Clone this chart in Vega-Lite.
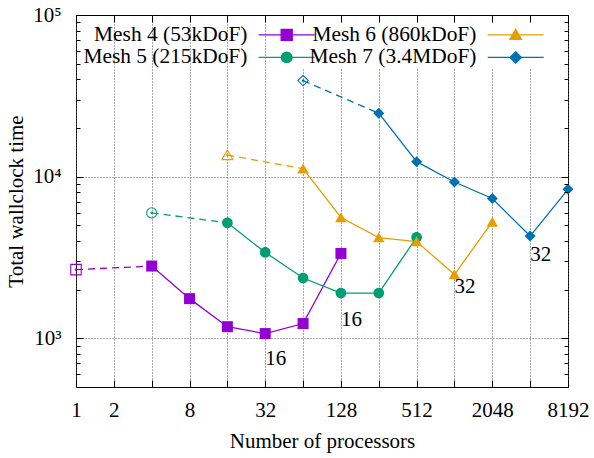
{
 "$schema": "https://vega.github.io/schema/vega-lite/v6.json",
 "width": 492,
 "height": 372,
 "autosize": {"type": "none"},
 "padding": {"left": 76, "top": 15, "right": 26, "bottom": 71},
 "background": "white",
 "config": {
  "view": {"stroke": "black", "strokeWidth": 1},
  "font": "Liberation Serif"
 },
 "datasets": {
  "pts": [
   {"series": "Mesh 4 (53kDoF)", "procs": 1, "time": 2660, "hollow": true, "dash": true},
   {"series": "Mesh 4 (53kDoF)", "procs": 4, "time": 2800, "hollow": false, "dash": true},
   {"series": "Mesh 4 (53kDoF)", "procs": 8, "time": 1760, "hollow": false, "dash": false},
   {"series": "Mesh 4 (53kDoF)", "procs": 16, "time": 1180, "hollow": false, "dash": false},
   {"series": "Mesh 4 (53kDoF)", "procs": 32, "time": 1070, "hollow": false, "dash": false},
   {"series": "Mesh 4 (53kDoF)", "procs": 64, "time": 1235, "hollow": false, "dash": false},
   {"series": "Mesh 4 (53kDoF)", "procs": 128, "time": 3350, "hollow": false, "dash": false},
   {"series": "Mesh 5 (215kDoF)", "procs": 4, "time": 5970, "hollow": true, "dash": true},
   {"series": "Mesh 5 (215kDoF)", "procs": 16, "time": 5180, "hollow": false, "dash": true},
   {"series": "Mesh 5 (215kDoF)", "procs": 32, "time": 3400, "hollow": false, "dash": false},
   {"series": "Mesh 5 (215kDoF)", "procs": 64, "time": 2360, "hollow": false, "dash": false},
   {"series": "Mesh 5 (215kDoF)", "procs": 128, "time": 1905, "hollow": false, "dash": false},
   {"series": "Mesh 5 (215kDoF)", "procs": 256, "time": 1905, "hollow": false, "dash": false},
   {"series": "Mesh 5 (215kDoF)", "procs": 512, "time": 4220, "hollow": false, "dash": false},
   {"series": "Mesh 6 (860kDoF)", "procs": 16, "time": 13600, "hollow": true, "dash": true},
   {"series": "Mesh 6 (860kDoF)", "procs": 64, "time": 11200, "hollow": false, "dash": true},
   {"series": "Mesh 6 (860kDoF)", "procs": 128, "time": 5590, "hollow": false, "dash": false},
   {"series": "Mesh 6 (860kDoF)", "procs": 256, "time": 4200, "hollow": false, "dash": false},
   {"series": "Mesh 6 (860kDoF)", "procs": 512, "time": 3970, "hollow": false, "dash": false},
   {"series": "Mesh 6 (860kDoF)", "procs": 1024, "time": 2480, "hollow": false, "dash": false},
   {"series": "Mesh 6 (860kDoF)", "procs": 2048, "time": 5250, "hollow": false, "dash": false},
   {"series": "Mesh 7 (3.4MDoF)", "procs": 64, "time": 39300, "hollow": true, "dash": true},
   {"series": "Mesh 7 (3.4MDoF)", "procs": 256, "time": 24700, "hollow": false, "dash": true},
   {"series": "Mesh 7 (3.4MDoF)", "procs": 512, "time": 12380, "hollow": false, "dash": false},
   {"series": "Mesh 7 (3.4MDoF)", "procs": 1024, "time": 9270, "hollow": false, "dash": false},
   {"series": "Mesh 7 (3.4MDoF)", "procs": 2048, "time": 7330, "hollow": false, "dash": false},
   {"series": "Mesh 7 (3.4MDoF)", "procs": 4096, "time": 4290, "hollow": false, "dash": false},
   {"series": "Mesh 7 (3.4MDoF)", "procs": 8192, "time": 8350, "hollow": false, "dash": false}
  ],
  "notes": [
   {"series": "Mesh 4 (53kDoF)", "procs": 32, "time": 745, "note": "16"},
   {"series": "Mesh 5 (215kDoF)", "procs": 128, "time": 1300, "note": "16"},
   {"series": "Mesh 6 (860kDoF)", "procs": 1024, "time": 2080, "note": "32"},
   {"series": "Mesh 7 (3.4MDoF)", "procs": 4096, "time": 3270, "note": "32"}
  ]
 },
 "layer": [
  {
   "data": {"name": "pts"},
   "transform": [{"filter": "datum.dash"}],
   "mark": {"type": "line", "strokeDash": [7, 5], "strokeWidth": 1.3},
   "encoding": {
    "x": {"field": "procs", "type": "quantitative",
     "scale": {"type": "log", "base": 2, "domain": [1, 8192], "nice": false},
     "axis": {"orient": "bottom", "values": [1,2,4,8,16,32,64,128,256,512,1024,2048,4096,8192], "format": "d",
      "labelExpr": "indexof([1,2,8,32,128,512,2048,8192], datum.value) >= 0 ? datum.label : ''",
      "labelFlush": false, "labelOverlap": false, "labelFont": "Liberation Serif", "labelFontSize": 21, "labelColor": "black", "labelPadding": 19.6,
      "domain": false, "ticks": true, "tickSize": -7, "tickColor": "black", "tickWidth": 1,
      "grid": true, "gridColor": "#555555", "gridDash": [1, 2], "gridWidth": 1,
      "title": "Number of processors", "titleFont": "Liberation Serif", "titleFontSize": 21, "titleFontWeight": "normal", "titleColor": "black", "titlePadding": 10}},
    "y": {"field": "time", "type": "quantitative",
     "scale": {"type": "log", "domain": [500, 100000], "nice": false},
     "axis": {"orient": "left", "values": [600,700,800,900,1000,2000,3000,4000,5000,6000,7000,8000,9000,10000,20000,30000,40000,50000,60000,70000,80000,90000,100000],
      "labelExpr": "datum.value == 1000 ? '10³' : datum.value == 10000 ? '10⁴' : datum.value == 100000 ? '10⁵' : ''",
      "labelFlush": false, "labelOverlap": false, "labelFont": "Liberation Serif", "labelFontSize": 21, "labelColor": "black", "labelPadding": 22,
      "domain": false, "ticks": true, "tickColor": "black", "tickWidth": 1,
      "tickSize": {"condition": {"test": "datum.value == 1000 || datum.value == 10000 || datum.value == 100000", "value": -7}, "value": -4},
      "grid": true, "gridColor": "#555555", "gridDash": [1, 2], "gridWidth": 1,
      "gridOpacity": {"condition": {"test": "datum.value == 1000 || datum.value == 10000", "value": 1}, "value": 0},
      "title": "Total wallclock time", "titleFont": "Liberation Serif", "titleFontSize": 21, "titleFontWeight": "normal", "titleColor": "black", "titlePadding": 6}},
    "stroke": {"field": "series", "type": "nominal",
     "scale": {"domain": ["Mesh 5 (215kDoF)", "Mesh 4 (53kDoF)", "Mesh 7 (3.4MDoF)", "Mesh 6 (860kDoF)"], "range": ["#009e73", "#9400d3", "#0072b2", "#e69f00"]},
     "legend": null}
   }
  },
  {
   "data": {"name": "pts"},
   "transform": [{"filter": "!datum.hollow"}],
   "mark": {"type": "line", "strokeWidth": 1.3},
   "encoding": {
    "x": {"field": "procs", "type": "quantitative",
     "scale": {"type": "log", "base": 2, "domain": [1, 8192], "nice": false},
     "axis": {"orient": "top", "values": [1,2,4,8,16,32,64,128,256,512,1024,2048,4096,8192], "labels": false, "domain": false, "grid": false, "ticks": true, "tickSize": -7, "tickColor": "black", "title": null, "zindex": 1}},
    "y": {"field": "time", "type": "quantitative",
     "scale": {"type": "log", "domain": [500, 100000], "nice": false},
     "axis": {"orient": "right", "values": [600,700,800,900,1000,2000,3000,4000,5000,6000,7000,8000,9000,10000,20000,30000,40000,50000,60000,70000,80000,90000,100000],
      "labels": false, "domain": false, "grid": false, "ticks": true, "tickColor": "black", "title": null, "zindex": 1,
      "tickSize": {"condition": {"test": "datum.value == 1000 || datum.value == 10000 || datum.value == 100000", "value": -7}, "value": -4}}},
    "stroke": {"field": "series", "type": "nominal", "legend": null}
   }
  },
  {
   "data": {"name": "pts"},
   "transform": [{"filter": "datum.hollow"}],
   "mark": {"type": "point", "filled": false, "opacity": 1, "size": 110, "strokeWidth": 1.1},
   "encoding": {
    "x": {"field": "procs", "type": "quantitative", "axis": null},
    "y": {"field": "time", "type": "quantitative", "axis": null},
    "shape": {"field": "series", "type": "nominal",
     "scale": {"domain": ["Mesh 7 (3.4MDoF)", "Mesh 6 (860kDoF)", "Mesh 5 (215kDoF)", "Mesh 4 (53kDoF)"],
      "range": ["M0,-1L1,0L0,1L-1,0Z", "M0,-0.95L1.05,0.87L-1.05,0.87Z", "M-0.97,0A0.97,0.97,0,1,0,0.97,0A0.97,0.97,0,1,0,-0.97,0Z", "M-1,-1H1V1H-1Z"]},
     "legend": null},
    "stroke": {"field": "series", "type": "nominal", "legend": null}
   }
  },
  {
   "data": {"name": "pts"},
   "transform": [{"filter": "datum.hollow"}],
   "mark": {"type": "point", "filled": false, "opacity": 1, "size": 2, "shape": "circle", "strokeWidth": 1.2},
   "encoding": {
    "x": {"field": "procs", "type": "quantitative", "axis": null},
    "y": {"field": "time", "type": "quantitative", "axis": null},
    "stroke": {"field": "series", "type": "nominal", "legend": null}
   }
  },
  {
   "data": {"name": "pts"},
   "transform": [{"filter": "!datum.hollow"}],
   "mark": {"type": "point", "filled": true, "opacity": 1, "size": 121},
   "encoding": {
    "x": {"field": "procs", "type": "quantitative", "axis": null},
    "y": {"field": "time", "type": "quantitative", "axis": null},
    "shape": {"field": "series", "type": "nominal", "legend": null},
    "color": {"field": "series", "type": "nominal",
     "scale": {"domain": ["Mesh 4 (53kDoF)", "Mesh 5 (215kDoF)", "Mesh 6 (860kDoF)", "Mesh 7 (3.4MDoF)"], "range": ["#9400d3", "#009e73", "#e69f00", "#0072b2"]},
     "legend": {"title": null, "orient": "none", "legendX": 200, "legendY": 8.7, "columns": 2,
      "columnPadding": -9, "rowPadding": 0, "padding": 0, "fillColor": "white",
      "symbolSize": 196, "symbolStrokeWidth": 1.3,
      "labelAlign": "right", "labelOffset": -50, "labelFont": "Liberation Serif", "labelFontSize": 21.4, "labelColor": "black", "labelLimit": 400,
      "encoding": {"symbols": {
       "shape": {"value": {"expr": "datum.value == 'Mesh 4 (53kDoF)' ? 'M-4,0H4M-0.79,-0.79H0.79V0.79H-0.79Z' : datum.value == 'Mesh 5 (215kDoF)' ? 'M-4,0H4M-0.76,0A0.76,0.76,0,1,0,0.76,0A0.76,0.76,0,1,0,-0.76,0Z' : datum.value == 'Mesh 6 (860kDoF)' ? 'M-4,0H4M0,-0.8L0.82,0.64L-0.82,0.64Z' : 'M-4,0H4M0,-0.82L0.82,0L0,0.82L-0.82,0Z'"}},
       "stroke": {"value": {"expr": "scale('color', datum.value)"}},
       "strokeWidth": {"value": 1.3},
       "opacity": {"value": 1}}}}}
   }
  },
  {
   "data": {"name": "notes"},
   "mark": {"type": "text", "align": "left", "baseline": "middle", "font": "Liberation Serif", "fontSize": 21, "color": "black"},
   "encoding": {
    "x": {"field": "procs", "type": "quantitative", "axis": null},
    "y": {"field": "time", "type": "quantitative", "axis": null},
    "text": {"field": "note"}
   }
  }
 ],
 "resolve": {"axis": {"x": "independent", "y": "independent"}}
}
